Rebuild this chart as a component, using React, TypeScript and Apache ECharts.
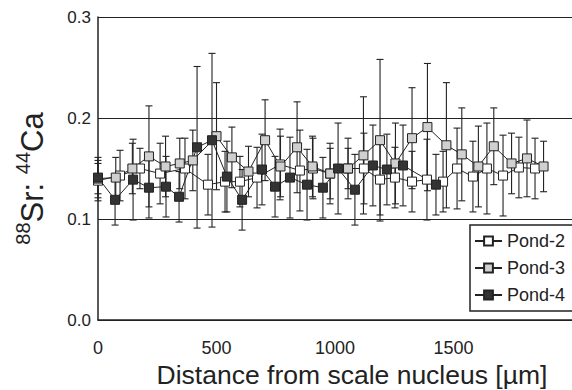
import React, { useEffect, useRef } from "react";
import * as echarts from "echarts";

// Distance from scale nucleus [µm] and 88Sr:44Ca ratios with error magnitudes
const pond2X = [0, 93, 177, 262, 367, 464, 536, 599, 671, 768, 852, 907, 979, 1055, 1122, 1190, 1253, 1325, 1388, 1456, 1515, 1582, 1641, 1709, 1776, 1844];
const pond2Y = [0.138, 0.143, 0.150, 0.145, 0.150, 0.134, 0.137, 0.137, 0.141, 0.154, 0.148, 0.150, 0.145, 0.150, 0.150, 0.139, 0.141, 0.137, 0.139, 0.137, 0.150, 0.142, 0.150, 0.143, 0.151, 0.150];
const pond2Err = [0.02, 0.025, 0.02, 0.03, 0.03, 0.03, 0.03, 0.025, 0.03, 0.035, 0.04, 0.03, 0.03, 0.03, 0.035, 0.035, 0.03, 0.03, 0.04, 0.03, 0.04, 0.035, 0.045, 0.04, 0.03, 0.03];

const pond3X = [0, 75, 145, 215, 285, 345, 400, 500, 565, 635, 705, 770, 840, 905, 980, 1055, 1120, 1190, 1255, 1325, 1390, 1470, 1535, 1605, 1670, 1745, 1810, 1880];
const pond3Y = [0.140, 0.141, 0.150, 0.162, 0.152, 0.155, 0.158, 0.182, 0.161, 0.147, 0.178, 0.152, 0.171, 0.152, 0.145, 0.150, 0.163, 0.178, 0.155, 0.180, 0.191, 0.173, 0.164, 0.152, 0.172, 0.155, 0.160, 0.152];
const pond3Err = [0.015, 0.02, 0.025, 0.05, 0.03, 0.025, 0.03, 0.053, 0.03, 0.025, 0.04, 0.03, 0.045, 0.03, 0.025, 0.02, 0.058, 0.08, 0.04, 0.05, 0.063, 0.062, 0.046, 0.04, 0.038, 0.03, 0.038, 0.025];

const pond4X = [0, 72, 148, 215, 287, 342, 418, 481, 544, 608, 692, 747, 810, 882, 949, 1013, 1084, 1160, 1219, 1287, 1426];
const pond4Y = [0.141, 0.119, 0.139, 0.131, 0.132, 0.122, 0.171, 0.178, 0.142, 0.119, 0.149, 0.132, 0.141, 0.134, 0.131, 0.150, 0.129, 0.153, 0.149, 0.153, 0.134];
const pond4Err = [0.02, 0.025, 0.04, 0.03, 0.03, 0.025, 0.08, 0.086, 0.035, 0.03, 0.035, 0.03, 0.04, 0.035, 0.03, 0.045, 0.035, 0.04, 0.035, 0.04, 0.03];

const xTicks = [0, 500, 1000, 1500];

const ink = "#222";

function lineSeries(name: string, xs: number[], ys: number[], fill: string) {
  return {
    type: "line",
    name,
    data: xs.map((x, i) => [x, ys[i]]),
    symbol: "rect",
    symbolSize: 9,
    lineStyle: { color: ink, width: 1 },
    itemStyle: { color: fill, borderColor: ink, borderWidth: 1 },
    z: 3,
  };
}

function errSeries(name: string, xs: number[], ys: number[], errs: number[]) {
  return {
    type: "custom",
    name: name + "-err",
    silent: true,
    z: 2,
    data: xs.map((x, i) => [x, ys[i] - errs[i], ys[i] + errs[i]]),
    encode: { x: 0, y: [1, 2] },
    renderItem: (_params: any, api: any) => {
      const x = api.value(0);
      const lo = api.coord([x, api.value(1)]);
      const hi = api.coord([x, api.value(2)]);
      const w = 3.5;
      const st = { stroke: ink, lineWidth: 1.1 };
      return {
        type: "group",
        children: [
          { type: "line", shape: { x1: lo[0], y1: lo[1], x2: hi[0], y2: hi[1] }, style: st },
          { type: "line", shape: { x1: hi[0] - w, y1: hi[1], x2: hi[0] + w, y2: hi[1] }, style: st },
          { type: "line", shape: { x1: lo[0] - w, y1: lo[1], x2: lo[0] + w, y2: lo[1] }, style: st },
        ],
      };
    },
  };
}

export default function App() {
  const ref = useRef<HTMLDivElement>(null);
  useEffect(() => {
    const chart = echarts.init(ref.current!, null, { renderer: "svg" });
    const font = "Liberation Sans, Arial, Helvetica, sans-serif";
    chart.setOption({
      animation: false,
      backgroundColor: "#fff",
      textStyle: { fontFamily: font, color: ink },
      grid: { left: 98, top: 17, right: 0, bottom: 70, outerBoundsMode: "none", containLabel: false },
      legend: {
        left: 470,
        top: 225,
        orient: "vertical",
        data: ["Pond-2", "Pond-3", "Pond-4"],
        backgroundColor: "#fff",
        borderColor: ink,
        borderWidth: 1.5,
        borderRadius: 0,
        padding: [7, 20, 7, 4],
        itemWidth: 27,
        itemHeight: 11,
        itemGap: 9,
        textStyle: { fontFamily: font, fontSize: 18, color: ink },
      },
      xAxis: {
        type: "value",
        min: 0,
        max: 2000,
        interval: 500,
        name: "Distance from scale nucleus [µm]",
        nameLocation: "middle",
        nameGap: 41,
        nameTextStyle: { fontFamily: font, fontSize: 26.5, color: ink, padding: [0, 0, 0, 34] },
        axisLine: { show: true, lineStyle: { color: ink, width: 1.5 } },
        axisTick: { show: false },
        splitLine: { show: false },
        axisLabel: {
          margin: 19,
          fontSize: 18,
          color: ink,
          fontFamily: font,
          formatter: (v: number) => (xTicks.includes(v) ? String(v) : ""),
        },
      },
      yAxis: {
        type: "value",
        min: 0,
        max: 0.3,
        interval: 0.1,
        name: "{sup|88}{big|Sr: }{sup|44}{big|Ca}",
        nameLocation: "middle",
        nameRotate: 90,
        nameGap: 50,
        nameTextStyle: {
          padding: [0, 20, 0, 0],
          rich: {
            big: { fontSize: 31, fontFamily: font, color: ink, lineHeight: 35, verticalAlign: "bottom" },
            sup: { fontSize: 20, fontFamily: font, color: ink, lineHeight: 20, verticalAlign: "top" },
          },
        },
        axisLine: { show: true, lineStyle: { color: ink, width: 1.5 } },
        axisTick: { show: false },
        splitLine: { show: true, lineStyle: { color: ink, width: 1.2 } },
        axisLabel: {
          margin: 7,
          fontSize: 17,
          color: ink,
          fontFamily: font,
          formatter: (v: number) => v.toFixed(1),
        },
      },
      series: [
        errSeries("Pond-2", pond2X, pond2Y, pond2Err),
        errSeries("Pond-3", pond3X, pond3Y, pond3Err),
        errSeries("Pond-4", pond4X, pond4Y, pond4Err),
        lineSeries("Pond-2", pond2X, pond2Y, "#fff"),
        lineSeries("Pond-3", pond3X, pond3Y, "#d0d0d0"),
        lineSeries("Pond-4", pond4X, pond4Y, "#333"),
      ],
    });
    return () => chart.dispose();
  }, []);
  return <div ref={ref} style={{ position: "fixed", left: 0, top: 0, width: 572, height: 390 }} />;
}
